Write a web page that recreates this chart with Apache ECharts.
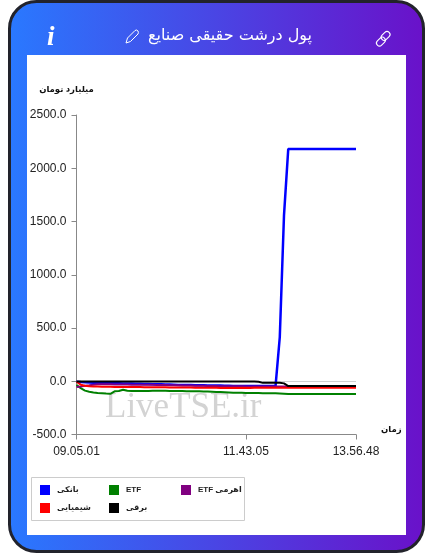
<!DOCTYPE HTML>
<html>
<head>
<meta charset="utf-8">
<title>پول درشت حقیقی صنایع</title>
<style>
html,body{margin:0;padding:0;background:#fff}
#chart{width:433px;height:559px}
</style>
<script src="https://cdn.jsdelivr.net/npm/echarts@6/dist/echarts.min.js"></script>
</head>
<body>
<div id="chart"></div>
<script>
var titleText = 'پول درشت حقیقی صنایع';
var yName = 'میلیارد تومان';
var xName = 'زمان';
var watermark = 'LiveTSE.ir';
var seriesNames = ['بانکی', 'ETF', 'ETF اهرمی', 'شیمیایی', 'برقی'];
var seriesColors = ['#0000ff', '#008000', '#800080', '#ff0000', '#000000'];

var times = ['09.05.01','09.09.00','09.12.55','09.16.50','09.20.48','09.24.41','09.28.37','09.32.33','09.36.30','09.40.26',
  '09.44.22','09.48.19','09.52.14','09.56.10','10.00.07','10.04.03','10.07.58','10.11.54','10.15.51','10.19.47',
  '10.23.43','10.27.39','10.31.35','10.35.31','10.39.27','10.43.23','10.47.19','10.51.15','10.55.11','10.59.07',
  '11.03.03','11.07.00','11.10.56','11.14.52','11.18.48','11.22.44','11.26.40','11.30.36','11.34.33','11.39.09',
  '11.43.05','11.48.12','11.53.20','11.58.27','12.03.33','12.08.41','12.13.47','12.18.55','12.24.02','12.29.08',
  '12.34.16','12.39.23','12.44.30','12.49.37','12.54.44','12.59.51','13.04.58','13.10.05','13.15.12','13.20.19',
  '13.25.26','13.30.33','13.35.40','13.40.47','13.45.54','13.51.01','13.56.48'];

var banki = [-5,-8,-10,-12,-14,-15,-15,-16,-17,-18,-19,-20,-21,-22,-23,-24,-25,-26,-27,-28,
  -29,-30,-31,-33,-35,-35,-36,-36,-37,-38,-38,-39,-40,-40,-41,-42,-43,-44,-45,-45,
  -45,-45,-45,-45,-45,-45,-45,-45,413,1560,2180,2180,2180,2180,2180,2180,2180,2180,2180,2180,
  2180,2180,2180,2180,2180,2180,2180];
var etf = [-35,-65,-88,-98,-105,-110,-113,-116,-118,-95,-92,-80,-90,-92,-92,-92,-91,-91,-90,-90,
  -90,-90,-91,-91,-92,-92,-93,-93,-94,-95,-96,-97,-98,-100,-102,-104,-106,-108,-108,-109,
  -110,-110,-111,-111,-112,-112,-113,-113,-114,-117,-120,-120,-120,-120,-120,-120,-120,-120,-120,-120,
  -120,-120,-120,-120,-120,-120,-120];
var etfLeveraged = [-55,-50,-42,-38,-32,-28,-28,-29,-29,-30,-30,-31,-31,-32,-32,-33,-33,-34,-34,-35,
  -35,-36,-37,-37,-38,-39,-40,-41,-42,-42,-43,-44,-45,-45,-46,-46,-47,-47,-48,-48,
  -49,-49,-50,-50,-50,-50,-50,-50,-50,-50,-50,-50,-50,-50,-50,-50,-50,-50,-50,-50,
  -50,-50,-50,-50,-50,-50,-50];
var shimiyai = [-5,-32,-42,-48,-50,-50,-51,-52,-52,-53,-53,-54,-54,-55,-55,-55,-56,-56,-56,-57,
  -57,-57,-58,-58,-58,-59,-59,-59,-60,-60,-61,-61,-62,-62,-63,-63,-63,-63,-63,-63,
  -63,-63,-62,-62,-62,-62,-62,-62,-61,-61,-60,-60,-60,-60,-60,-60,-60,-60,-60,-60,
  -60,-60,-60,-60,-60,-60,-60];
var barghi = [-2,-2,-2,-2,-2,-2,-2,-2,-2,-2,-2,-2,-2,-2,-2,-2,-2,-2,-2,-2,
  -2,-2,-2,-2,-2,-2,-2,-2,-2,-2,-2,-2,-2,-2,-2,-2,-2,-2,-2,-2,
  -2,-2,-3,-5,-15,-15,-15,-15,-15,-20,-45,-45,-45,-45,-45,-45,-45,-45,-45,-45,
  -45,-45,-45,-45,-45,-45,-45];
var seriesData = [banki, etf, etfLeveraged, shimiyai, barghi];
var shownTimes = ['09.05.01', '11.43.05', '13.56.48'];

var legendSpots = [[40,486],[109,486],[181,486],[40,504],[109,504]];
var smallFont = '"Liberation Sans", "DejaVu Sans"';

var chart = echarts.init(document.getElementById('chart'));

function showTime(i, v) { return shownTimes.indexOf(v) >= 0; }

chart.setOption({
  animation: false,
  textStyle: { fontFamily: 'Liberation Sans' },
  graphic: [
    { type: 'rect', z: 0, shape: { x: 9.5, y: 1.5, width: 414, height: 550, r: 27 },
      style: { fill: new echarts.graphic.LinearGradient(0, 0, 1, 0, [{ offset: 0, color: '#2979ff' }, { offset: 1, color: '#6a11c9' }]), stroke: '#22232b', lineWidth: 3 } },
    { type: 'rect', z: 0, shape: { x: 27, y: 55, width: 379, height: 480 }, style: { fill: '#fff' } },
    { type: 'text', z: 1, x: 148, y: 28, style: { text: titleText, fill: '#fff', font: '16px "DejaVu Sans"' } },
    { type: 'text', z: 1, x: 47, y: 25, style: { text: 'i', fill: '#fff', font: 'italic bold 27px "Liberation Serif"' } },
    { type: 'polygon', z: 1, shape: { points: [[126,43],[127.5,38],[135,30.5],[136.5,30],[138,31],[138.4,32.5],[138,34],[130.5,41.5]] },
      style: { fill: 'none', stroke: '#fff', lineWidth: 1 } },
    { type: 'rect', z: 1, x: 379.5, y: 43, rotation: -Math.PI / 4, shape: { x: -3, y: -7, width: 6, height: 10, r: 3 },
      style: { fill: 'none', stroke: '#fff', lineWidth: 1.1 } },
    { type: 'rect', z: 1, x: 387, y: 34.5, rotation: -Math.PI / 4, shape: { x: -3, y: -3, width: 6, height: 10, r: 3 },
      style: { fill: 'none', stroke: '#fff', lineWidth: 1.1 } },
    { type: 'text', z: 1, x: 105, y: 390, style: { text: watermark, fill: '#d3d3d3', font: '35px "Liberation Serif"' } },
    { type: 'rect', z: 1, shape: { x: 31.5, y: 477.5, width: 213, height: 43 }, style: { fill: '#fff', stroke: '#cccccc', lineWidth: 1 } }
  ],
  legend: seriesNames.map(function (name, i) {
    return {
      data: [name], left: legendSpots[i][0], top: legendSpots[i][1] - 1, padding: 0, itemWidth: 10, itemHeight: 10, itemGap: 7,
      icon: 'rect', selectedMode: false,
      textStyle: { fontSize: 8, fontWeight: 'bold', color: '#222', fontFamily: smallFont, padding: [0, 0, 0, 2] }
    };
  }),
  grid: { left: 76.5, right: 77, top: 115, bottom: 124.5, containLabel: false },
  xAxis: {
    type: 'category', data: times, boundaryGap: false,
    name: xName, nameLocation: 'end', nameGap: 25,
    nameTextStyle: { fontSize: 8.5, fontWeight: 'bold', color: '#111', fontFamily: smallFont, verticalAlign: 'bottom' },
    axisLine: { onZero: false, lineStyle: { color: '#888', width: 1 } },
    axisTick: { length: 5, interval: showTime, lineStyle: { color: '#888' } },
    axisLabel: { interval: showTime, hideOverlap: false, fontSize: 12, color: '#222', margin: 11, showMinLabel: true, showMaxLabel: true },
    splitLine: { show: false }
  },
  yAxis: {
    type: 'value', min: -500, max: 2500, interval: 500,
    name: yName, nameLocation: 'end', nameGap: 21,
    nameTextStyle: { fontSize: 8.5, fontWeight: 'bold', color: '#111', fontFamily: smallFont, padding: [0, 20, 0, 0] },
    axisLine: { show: true, onZero: false, lineStyle: { color: '#888', width: 1 } },
    axisTick: { show: true, length: 5, lineStyle: { color: '#888' } },
    axisLabel: { fontSize: 12, color: '#222', margin: 10, formatter: function (v) { return v.toFixed(1); } },
    splitLine: { show: false }
  },
  series: seriesNames.map(function (name, i) {
    var s = {
      name: name, type: 'line', data: seriesData[i], showSymbol: false, symbol: 'none', smooth: false,
      lineStyle: { color: seriesColors[i], width: i === 0 ? 2.5 : 2 }, itemStyle: { color: seriesColors[i] }, z: 3 + i
    };
    // faint zero line
    if (i === 0) s.markLine = { silent: true, symbol: 'none', label: { show: false }, lineStyle: { color: '#d0d0d0', width: 1, type: 'solid' }, data: [{ yAxis: 0 }], z: 1 };
    return s;
  })
});
</script>
</body>
</html>
